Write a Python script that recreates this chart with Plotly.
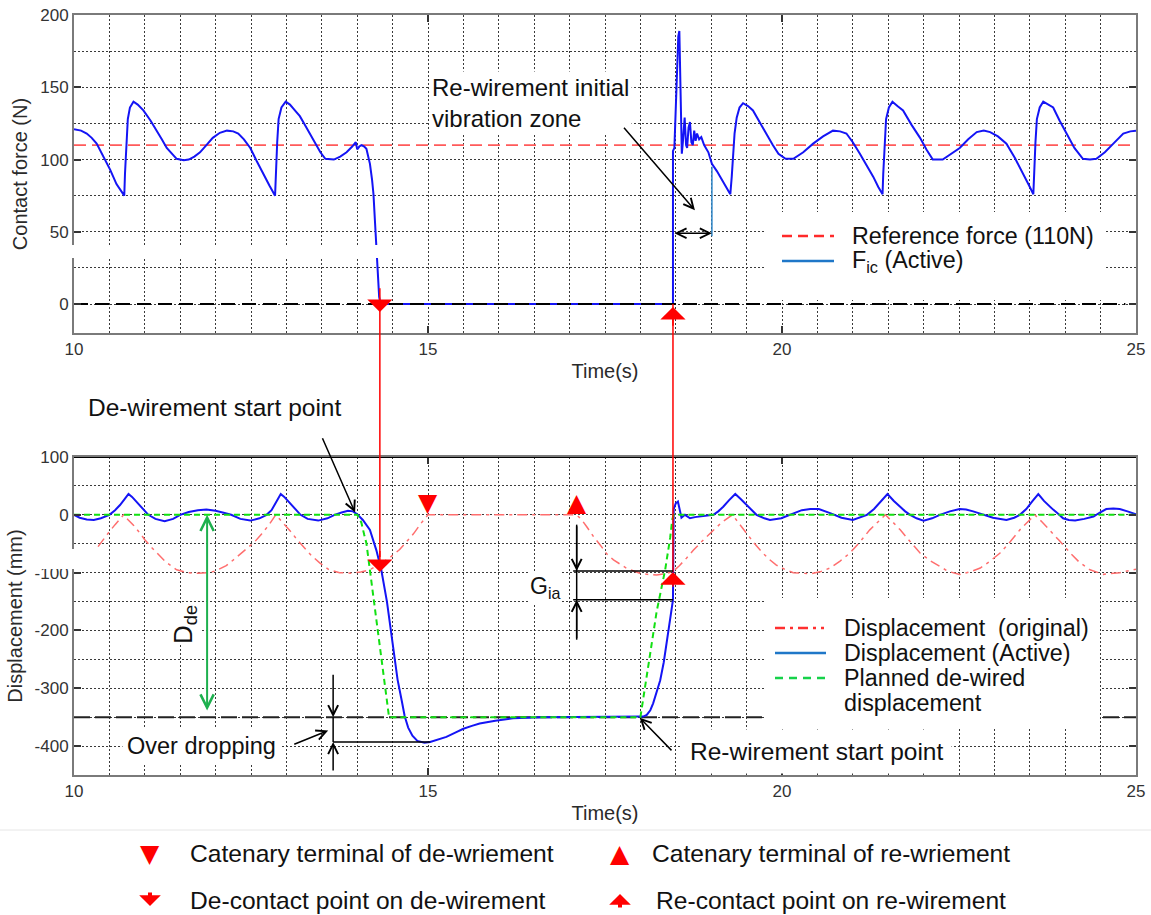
import plotly.graph_objects as go

FONT = "Liberation Sans"
W, H = 1151, 915

# ---------------- data ----------------
# Contact force of the active pantograph (N)
force_t = [10.00, 10.10, 10.18, 10.25, 10.32, 10.42, 10.51, 10.60, 10.67, 10.71,
           10.72, 10.74, 10.76, 10.79, 10.84, 10.90, 10.98, 11.08, 11.17, 11.24,
           11.31, 11.38, 11.45, 11.55, 11.62, 11.70, 11.78, 11.87, 11.96, 12.06,
           12.16, 12.25, 12.32, 12.40, 12.49, 12.58, 12.67, 12.76, 12.84, 12.85,
           12.87, 12.89, 12.93, 12.99, 13.05, 13.12, 13.19, 13.26, 13.33, 13.40,
           13.48, 13.55, 13.67, 13.76, 13.85, 13.93, 13.98, 14.00, 14.03, 14.06,
           14.10, 14.13, 14.16, 14.18, 14.21, 14.23, 14.25, 14.27, 14.29, 14.31,
           14.33, 18.46, 18.46, 18.48, 18.51, 18.535, 18.55, 18.565, 18.575, 18.585,
           18.60, 18.625, 18.645, 18.66, 18.68, 18.70, 18.72, 18.74, 18.76, 18.78,
           18.80, 18.83, 18.86, 18.90, 18.96, 19.01, 19.08, 19.17, 19.23, 19.27,
           19.29, 19.31, 19.33, 19.36, 19.40, 19.45, 19.52, 19.59, 19.68, 19.78,
           19.87, 19.95, 20.05, 20.16, 20.30, 20.44, 20.58, 20.72, 20.82, 20.91,
           21.00, 21.10, 21.20, 21.29, 21.36, 21.42, 21.43, 21.45, 21.47, 21.51,
           21.56, 21.63, 21.71, 21.83, 21.95, 22.04, 22.13, 22.27, 22.39, 22.51,
           22.63, 22.75, 22.85, 22.94, 23.05, 23.17, 23.29, 23.41, 23.49, 23.55,
           23.56, 23.58, 23.60, 23.64, 23.69, 23.76, 23.83, 23.92, 24.02, 24.13,
           24.25, 24.35, 24.44, 24.56, 24.68, 24.82, 24.92, 25.00]
force_v = [121, 120, 118, 115, 111, 102, 93, 83, 78, 75,
           90, 112, 128, 136, 140, 138, 134, 127, 120, 114,
           108, 104, 100.5, 99.5, 100, 102, 105, 110, 115, 118.5,
           120, 119.5, 118, 114, 108, 99, 90, 82, 75, 90,
           112, 128, 136, 140, 138, 134, 130, 124, 118, 112,
           105, 100.5, 100, 102, 105, 109, 112, 107, 109, 110,
           109, 107.5, 102, 97, 86, 76, 58, 40, 18, 5,
           0, 0, 106, 108, 150, 185, 189, 150, 118, 104,
           112, 129, 110, 108, 122, 126, 112, 110, 120, 113,
           118, 114, 115.5, 110, 105, 97, 92, 84, 79, 76,
           88, 102, 118, 129, 136, 139, 137, 134, 126, 118,
           110, 104, 100.5, 100.5, 105, 111, 116, 120, 119.5, 118,
           112, 104, 96, 88, 81, 76, 90, 112, 128, 136,
           140, 137, 134, 124, 115, 107, 100, 100, 104, 108,
           114, 119, 120, 119, 116, 111, 101, 90, 82, 76,
           90, 112, 128, 136, 140, 138, 136, 127, 118, 108,
           100.5, 100, 100.5, 105, 111, 118, 119.5, 120]

# Contact wire displacement with active control (mm)
disp_t = [10.00, 10.08, 10.18, 10.28, 10.38, 10.50, 10.58, 10.65, 10.72, 10.77,
          10.82, 10.90, 10.97, 11.05, 11.15, 11.28, 11.40, 11.50, 11.62, 11.75,
          11.87, 12.00, 12.10, 12.22, 12.35, 12.49, 12.62, 12.72, 12.79, 12.86,
          12.92, 12.97, 13.05, 13.12, 13.20, 13.30, 13.45, 13.58, 13.68, 13.78,
          13.87, 13.94, 14.00, 14.08, 14.18, 14.27, 14.34, 14.42, 14.50, 14.57,
          14.63, 14.67, 14.72, 14.78, 14.85, 14.95, 15.03, 15.15, 15.26, 15.40,
          15.50, 15.62, 15.73, 15.95, 16.20, 16.60, 17.00, 17.50, 17.95, 18.04,
          18.09, 18.14, 18.18, 18.23, 18.28, 18.33, 18.37, 18.41, 18.44, 18.46,
          18.47, 18.50, 18.53, 18.555, 18.58, 18.63, 18.70, 18.77, 18.84, 18.93,
          19.03, 19.10, 19.17, 19.25, 19.34, 19.42, 19.50, 19.57, 19.64, 19.75,
          19.83, 19.99, 20.16, 20.28, 20.40, 20.52, 20.68, 20.84, 21.00, 21.10,
          21.20, 21.30, 21.40, 21.49, 21.58, 21.67, 21.74, 21.81, 21.90, 22.00,
          22.12, 22.23, 22.37, 22.51, 22.60, 22.70, 22.84, 22.98, 23.17, 23.28,
          23.36, 23.45, 23.54, 23.62, 23.70, 23.77, 23.83, 23.90, 23.97, 24.05,
          24.14, 24.27, 24.40, 24.49, 24.58, 24.68, 24.77, 24.88, 24.96, 25.00]
disp_v = [0, -5, -8, -9, -6, 0, 8, 17, 28, 36,
          31, 20, 10, 0, -7, -11, -7, 0, 5, 8,
          9, 7, 4, 0, -7, -10, -6, 0, 8, 22,
          36, 31, 20, 10, 0, -7, -10, -6, 0, 4,
          7, 6, 1, -9, -26, -61, -95, -150, -220, -285,
          -322, -348, -368, -382, -391, -394, -393, -389, -384, -376,
          -370, -365, -361, -356, -352, -350, -350, -350, -350, -349,
          -346, -338, -326, -308, -286, -255, -222, -185, -160, -147,
          10, 20, 23, 8, -5, 0, -6, -4, -3, -2,
          0, 6, 14, 25, 36, 27, 17, 8, 0, -6,
          -9, -6, 3, 8, 10, 10, 3, -5, -9, -5,
          0, 10, 24, 36, 24, 14, 6, 0, -6, -10,
          -6, 0, 6, 10, 9, 6, 0, -5, -9, -5,
          0, 10, 24, 36, 24, 15, 9, 2, -6, -9,
          -10, -7, -3, 4, 10, 11, 10, 6, 2, 1]

# Contact wire displacement without control (mm)
orig_t = [10.34, 10.42, 10.50, 10.58, 10.64, 10.70, 10.76, 10.84, 10.92, 11.00,
          11.10, 11.20, 11.30, 11.45, 11.60, 11.75, 11.90, 12.00, 12.15, 12.26,
          12.40, 12.55, 12.65, 12.75, 12.85, 12.91, 12.99, 13.07, 13.15, 13.25,
          13.35, 13.47, 13.60, 13.75, 13.90, 14.05, 14.18, 14.32, 14.45, 14.60,
          14.70, 14.80, 14.90, 14.95, 15.00, 17.10, 17.18, 17.25, 17.34, 17.45,
          17.52, 17.62, 17.80, 17.99, 18.10, 18.23, 18.35, 18.46, 18.55, 18.65,
          18.75, 18.90, 19.03, 19.15, 19.30, 19.38, 19.50, 19.60, 19.72, 19.82,
          19.92, 20.05, 20.16, 20.40, 20.55, 20.68, 20.82, 20.96, 21.10, 21.24,
          21.35, 21.46, 21.56, 21.67, 21.80, 21.95, 22.10, 22.23, 22.35, 22.51,
          22.65, 22.80, 22.94, 23.08, 23.22, 23.36, 23.46, 23.57, 23.67, 23.78,
          23.92, 24.07, 24.20, 24.35, 24.54, 24.77, 24.90, 25.00]
orig_v = [-55, -41, -29, -17, -9, 0, -8, -18, -30, -43,
          -57, -70, -82, -95, -100, -101, -100, -97, -88, -77,
          -62, -47, -33, -18, 0, -8, -18, -30, -43, -57,
          -70, -83, -95, -100, -101, -99, -95, -85, -75, -60,
          -46, -32, -15, -8, 0, 0, -10, -22, -38, -55,
          -67, -78, -92, -101, -103, -104, -102, -98, -88, -75,
          -61, -42, -26, -13, 0, -12, -32, -48, -65, -77,
          -87, -95, -100, -102, -98, -92, -80, -66, -47, -26,
          -13, 0, -12, -26, -45, -66, -80, -90, -98, -103,
          -99, -92, -80, -66, -47, -26, -13, 0, -12, -26,
          -45, -66, -82, -95, -103, -100, -97, -94]

# Planned de-wired displacement (mm)
plan_t = [10.00, 14.00, 14.03, 14.06, 14.10, 14.13, 14.45, 18.00, 18.23, 18.35,
          18.42, 18.45, 18.47, 25.00]
plan_v = [0, 0, -6, -14, -35, -49, -350, -350, -167, -95,
          -40, -8, 0, 0]

REF_FORCE = 110          # reference contact force (N)
DEWIRE_LEVEL = -350      # planned de-wired height (mm)
T_DECONTACT = 14.32      # de-contact instant (s)
T_RECONTACT = 18.46      # re-contact instant (s)
T_DEWIRE_TERM = 15.0     # catenary terminal of de-wirement (s)
T_REWIRE_TERM = 17.1     # catenary terminal of re-wirement (s)
T_VIB_END = 19.01        # end of initial vibration zone (s)
Y_DECONTACT = -99        # displacement at de-contact marker (mm)
Y_RECONTACT = -99        # displacement at re-contact marker (mm)
G_TOP, G_BOTTOM = -97, -147      # gap G_ia limits (mm)
OVERDROP_MIN = -393      # lowest displacement after de-wirement (mm)
T_OVERDROP = 15.03

# ---------------- layout geometry ----------------
def fx(px):
    return px / W


def fy(py):
    return 1 - py / H


XDOM = [fx(74), fx(1136)]
YDOM_TOP = [fy(333), fy(15)]
YDOM_BOT = [fy(775), fy(457)]
XR = [10, 25]
YR_TOP = [-20, 200]
YR_BOT = [-450, 100]


def to_paper(v, dom, rng):
    return dom[0] + (v - rng[0]) / (rng[1] - rng[0]) * (dom[1] - dom[0])


RED = "#FF0000"
BLUE = "#1414F5"
GRID = "#3a3a3a"
TITLE_FONT = dict(family=FONT, size=20, color="#2a2a2a")

fig = go.Figure()

# ---- contact force subplot ----
fig.add_trace(go.Scatter(x=XR, y=[REF_FORCE, REF_FORCE], mode="lines",
                         line=dict(color="#FF5A5A", width=1.6, dash="12px,6px"),
                         xaxis="x", yaxis="y", hoverinfo="skip"))
fig.add_trace(go.Scatter(x=force_t, y=force_v, mode="lines",
                         line=dict(color=BLUE, width=2), xaxis="x", yaxis="y"))
fig.add_trace(go.Scatter(x=[10, 24.85], y=[0, 0], mode="lines",
                         line=dict(color="black", width=2, dash="14px,7px"),
                         xaxis="x", yaxis="y", hoverinfo="skip"))

# ---- displacement subplot ----
fig.add_trace(go.Scatter(x=XR, y=[DEWIRE_LEVEL, DEWIRE_LEVEL], mode="lines",
                         line=dict(color="#222222", width=2, dash="16px,5px"),
                         xaxis="x2", yaxis="y2", hoverinfo="skip"))
fig.add_trace(go.Scatter(x=orig_t, y=orig_v, mode="lines",
                         line=dict(color="#FF6E6E", width=1.5, dash="10px,5px,3px,5px"),
                         xaxis="x2", yaxis="y2"))
fig.add_trace(go.Scatter(x=disp_t, y=disp_v, mode="lines",
                         line=dict(color=BLUE, width=2), xaxis="x2", yaxis="y2"))
fig.add_trace(go.Scatter(x=plan_t, y=plan_v, mode="lines",
                         line=dict(color="#12E012", width=2, dash="6px,4px"),
                         xaxis="x2", yaxis="y2"))

axis_base = dict(showline=True, linecolor="#7a7a7a", linewidth=2, mirror="allticks",
                 ticks="inside", ticklen=7, tickwidth=1.5, tickcolor="#333",
                 showgrid=True, gridcolor=GRID, griddash="2px,2px", gridwidth=1,
                 zeroline=False, automargin=False,
                 tickfont=dict(family=FONT, size=17, color="#333"))

xa = dict(axis_base, range=XR, domain=XDOM, tickmode="linear", tick0=10, dtick=5,
          minor=dict(tick0=10, dtick=0.5, showgrid=True, gridcolor=GRID,
                     griddash="2px,2px", gridwidth=1, ticks=""),
          title=dict(text="Time(s)", standoff=6, font=TITLE_FONT))

fig.update_layout(
    width=W, height=H, autosize=False,
    margin=dict(l=0, r=0, t=0, b=0, pad=0),
    paper_bgcolor="white", plot_bgcolor="white",
    showlegend=False,
    xaxis=dict(xa, anchor="y"),
    xaxis2=dict(xa, anchor="y2"),
    yaxis=dict(axis_base, range=YR_TOP, domain=YDOM_TOP, tickmode="linear", tick0=0, dtick=50,
               minor=dict(tick0=0, dtick=25, showgrid=True, gridcolor=GRID,
                          griddash="2px,2px", gridwidth=1, ticks=""),
               anchor="x",
               title=dict(text="Contact force (N)", standoff=7, font=TITLE_FONT)),
    yaxis2=dict(axis_base, range=YR_BOT, domain=YDOM_BOT, tickmode="array",
                tickvals=[-400, -300, -200, -100, 0, 100],
                ticktext=["-400", "-300", "-200", "-100", "0", "100"],
                minor=dict(tickmode="linear", tick0=0, dtick=50, showgrid=True,
                           gridcolor=GRID, griddash="2px,2px", gridwidth=1, ticks=""),
                anchor="x2",
                title=dict(text="Displacement (mm)", standoff=7, font=TITLE_FONT)),
)

shapes = []


def pline(x0, y0, x1, y1, color, width=2, dash=None):
    """Line in pixel coordinates of the page."""
    d = dict(type="line", xref="paper", yref="paper", x0=fx(x0), y0=fy(y0),
             x1=fx(x1), y1=fy(y1), layer="above", line=dict(color=color, width=width))
    if dash:
        d["line"]["dash"] = dash
    return d


def prect(x0, y0, x1, y1, color="white"):
    return dict(type="rect", xref="paper", yref="paper", x0=fx(x0), y0=fy(y0),
                x1=fx(x1), y1=fy(y1), layer="above", fillcolor=color,
                line=dict(width=0))


def dline(xref, yref, x0, y0, x1, y1, color="black", width=1.5):
    return dict(type="line", xref=xref, yref=yref, x0=x0, y0=y0, x1=x1, y1=y1,
                layer="above", line=dict(color=color, width=width))


# heavy top border of the displacement plot
shapes.append(dict(type="line", xref="paper", yref="y2", x0=XDOM[0], x1=XDOM[1],
                   y0=YR_BOT[1], y1=YR_BOT[1], layer="above",
                   line=dict(color="black", width=2)))

# red connectors between the contact events of both subplots
for t, yb in [(T_DECONTACT, -73), (T_RECONTACT, Y_RECONTACT)]:
    shapes.append(dict(type="line", xref="x", yref="paper", x0=t, x1=t,
                       y0=to_paper(0, YDOM_TOP, YR_TOP), y1=to_paper(yb, YDOM_BOT, YR_BOT),
                       layer="above", line=dict(color=RED, width=1.5)))

# end of the initial vibration zone
shapes.append(dline("x", "y", T_VIB_END, 47, T_VIB_END, 95, color="#2E86C8", width=1.5))

# over dropping bracket
shapes.append(dline("x2", "y2", 13.66, DEWIRE_LEVEL, 13.66, OVERDROP_MIN))
shapes.append(dline("x2", "y2", 13.66, OVERDROP_MIN, T_OVERDROP, OVERDROP_MIN))

# G_ia bracket
shapes.append(dline("x2", "y2", 17.1, -17, 17.1, -216))
shapes.append(dline("x2", "y2", 17.05, G_TOP, T_RECONTACT, G_TOP))
shapes.append(dline("x2", "y2", 17.05, G_BOTTOM, T_RECONTACT, G_BOTTOM))

# blank strips across the left axis
shapes.append(prect(0, 245, 420, 258))
shapes.append(prect(28, 549, 76, 569))

# legend of the force subplot
shapes.append(prect(765, 212, 1105, 300))
shapes.append(pline(782, 236, 834, 236, "#FF2A2A", 2.5, "10px,6px"))
shapes.append(pline(782, 261, 834, 261, "#1F77C8", 2.5))

# legend of the displacement subplot
shapes.append(prect(765, 598, 1100, 727))
shapes.append(pline(775, 628, 824, 628, "#FF3030", 2.5, "10px,5px,3px,5px"))
shapes.append(pline(775, 653, 826, 653, "#1F77C8", 2.5))
shapes.append(pline(775, 678, 826, 678, "#16D24A", 2.5, "8px,6px"))

# symbol key panel
shapes.append(prect(0, 828, W, H))
shapes.append(pline(0, 830, W, 830, "#e6e6e6", 1))

annotations = []


def ptext(text, x, y, size=23, xanchor="left", yanchor="middle", **kw):
    d = dict(text=text, x=fx(x), y=fy(y), xref="paper", yref="paper",
             xanchor=xanchor, yanchor=yanchor, showarrow=False,
             font=dict(family=FONT, size=size, color="#111"))
    d.update(kw)
    return d


def arrow(xref, yref, x, y, ax, ay, color="black", width=1.5, head=5, size=1.3,
          side="end"):
    return dict(text="", x=x, y=y, ax=ax, ay=ay, xref=xref, yref=yref,
                axref=xref, ayref=yref, showarrow=True, arrowhead=head,
                startarrowhead=head, arrowsize=size, startarrowsize=size,
                arrowwidth=width, arrowcolor=color, arrowside=side)


# --- force subplot notes ---
annotations.append(ptext("Re-wirement initial<br>vibration zone", 429, 103, size=24,
                         align="left", bgcolor="white", borderpad=2))
annotations.append(arrow("x", "y", 18.77, 65, 17.75, 123))
annotations.append(arrow("x", "y", T_VIB_END, 49, T_RECONTACT, 49, side="end+start"))
# contact event markers
annotations.append(arrow("x", "y", T_DECONTACT, -5.5, T_DECONTACT, 12, color=RED,
                         width=1.5, head=1, size=2.8))
annotations.append(arrow("x", "y", T_RECONTACT, -2, T_RECONTACT, -16, color=RED,
                         width=1.5, head=1, size=2.8))

# --- displacement subplot notes ---
annotations.append(ptext("De-wirement start point", 86, 407, size=24.5))
annotations.append(arrow("x2", "y2", 13.97, 4, 13.5, 135))
annotations.append(arrow("x2", "y2", 11.88, 0, 11.88, -341, color="#1DB04E", width=2,
                         side="end+start"))
annotations.append(ptext("D<sub>de</sub>", 184, 625, size=26, xanchor="center",
                         textangle=-90, bgcolor="white", borderpad=0))
annotations.append(ptext("Over dropping", 201, 746, size=23.5, xanchor="center",
                         bgcolor="white", borderpad=4))
annotations.append(arrow("x2", "y2", 13.59, -373, 13.09, -398))
annotations.append(arrow("x2", "y2", 13.66, DEWIRE_LEVEL, 13.66, -274))
annotations.append(arrow("x2", "y2", 13.66, OVERDROP_MIN, 13.66, -445))
annotations.append(arrow("x2", "y2", 17.1, G_TOP, 17.1, -17))
annotations.append(arrow("x2", "y2", 17.1, G_BOTTOM, 17.1, -216))
annotations.append(ptext("G<sub>ia</sub>", 545, 587, xanchor="center", bgcolor="white",
                         borderpad=1))
annotations.append(ptext("Re-wirement start point", 681, 751, size=24.5, bgcolor="white",
                         borderpad=8))
annotations.append(arrow("x2", "y2", 17.99, -351, T_RECONTACT, -410))
annotations.append(arrow("x2", "y2", T_DECONTACT, Y_DECONTACT, T_DECONTACT, -60,
                         color=RED, width=1.5, head=1, size=2.8))
annotations.append(arrow("x2", "y2", T_RECONTACT, Y_RECONTACT, T_RECONTACT, -127,
                         color=RED, width=1.5, head=1, size=2.8))
# catenary terminals
for t, glyph in [(T_DEWIRE_TERM, "\u25BC"), (T_REWIRE_TERM, "\u25B2")]:
    annotations.append(dict(text=glyph, x=t, y=0, xref="x2", yref="y2", showarrow=False,
                            xanchor="center", yanchor="bottom", yshift=-4,
                            font=dict(family="DejaVu Sans", size=25, color=RED)))

# --- legends ---
annotations.append(ptext("Reference force (110N)", 850, 236, size=23.3))
annotations.append(ptext("F<sub>ic</sub> (Active)", 850, 261, size=23.3))
annotations.append(ptext("Displacement\u00a0\u00a0(original)", 842, 628, size=23.3))
annotations.append(ptext("Displacement (Active)", 842, 653, size=23.3))
annotations.append(ptext("Planned de-wired", 842, 678, size=23.3))
annotations.append(ptext("displacement", 842, 703, size=23.3))

# --- symbol key ---
annotations.append(dict(text="\u25BC", x=fx(150), y=fy(853), xref="paper", yref="paper",
                        showarrow=False, xanchor="center", yanchor="middle",
                        font=dict(family="DejaVu Sans", size=25, color=RED)))
annotations.append(dict(text="\u25B2", x=fx(620), y=fy(853), xref="paper", yref="paper",
                        showarrow=False, xanchor="center", yanchor="middle",
                        font=dict(family="DejaVu Sans", size=25, color=RED)))
annotations.append(dict(text="", x=fx(150), y=fy(906), xref="paper", yref="paper",
                        ax=0, ay=-15, showarrow=True, arrowhead=1, arrowsize=0.9,
                        arrowwidth=4, arrowcolor=RED))
annotations.append(dict(text="", x=fx(620), y=fy(894), xref="paper", yref="paper",
                        ax=0, ay=15, showarrow=True, arrowhead=1, arrowsize=0.9,
                        arrowwidth=4, arrowcolor=RED))
annotations.append(ptext("Catenary terminal of de-wriement", 188, 853, size=24.6))
annotations.append(ptext("Catenary terminal of re-wriement", 650, 853, size=24.6))
annotations.append(ptext("De-contact point on de-wirement", 188, 900, size=24.6))
annotations.append(ptext("Re-contact point on re-wirement", 654, 900, size=24.6))

fig.update_layout(shapes=shapes, annotations=annotations)

fig.write_html("out.html")
